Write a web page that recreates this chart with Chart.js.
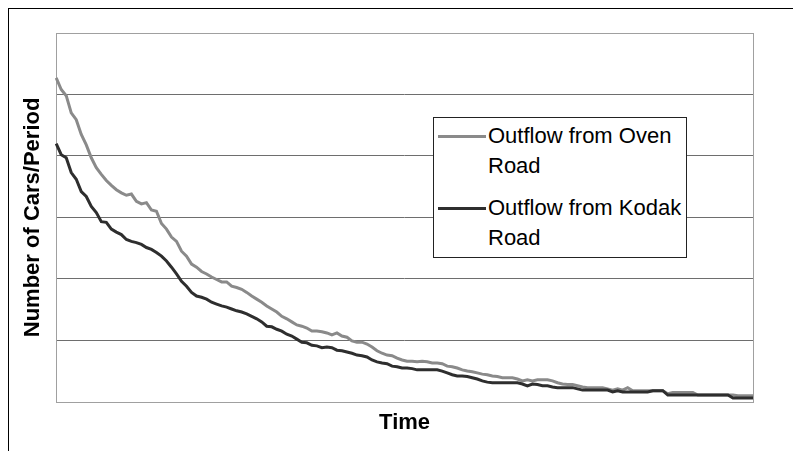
<!DOCTYPE html>
<html>
<head>
<meta charset="utf-8">
<script src="https://cdn.jsdelivr.net/npm/chart.js@4/dist/chart.umd.min.js"></script>
<style>
    html, body { margin: 0; padding: 0; background: #fff; }
    body { width: 793px; height: 451px; overflow: hidden; position: relative; }
    .frame { position: absolute; left: 8px; top: 8px; width: 800px; height: 460px;
             border-left: 1px solid #000; border-top: 1px solid #000; }
    #wrap { position: absolute; left: 0; top: 0; width: 793px; height: 451px; }
    .legend { position: absolute; left: 433px; top: 117px; width: 252px; height: 139px;
              border: 1px solid #222; background: #fff;
              font-family: Arial, "Liberation Sans", sans-serif; font-size: 22px; color: #000; }
    .legend-item { position: absolute; left: 0; width: 252px; }
    .legend-line { position: absolute; left: 4px; width: 48px; height: 3px; top: 11px; }
    .legend-text { position: absolute; left: 54px; top: -3px; width: 198px; line-height: 30px; }
</style>
</head>
<body>
<div class="frame"></div>
<div id="wrap"><canvas id="flowChart" width="793" height="451"></canvas></div>
<div class="legend" id="legend"></div>

<script>
// Outflow per period (one value every ~5px)
const ovenRoad = [
    52.7, 50.8, 49.8, 47.0, 45.9, 43.5, 41.8, 39.7, 38.1, 37.0,
    36.0, 35.2, 34.5, 34.0, 33.6, 33.8, 32.6, 32.2, 32.4, 31.2,
    31.0, 29.0, 28.1, 26.8, 26.1, 24.5, 23.7, 22.4, 21.9, 21.2,
    20.8, 20.3, 19.9, 19.5, 19.5, 18.8, 18.6, 18.3, 17.8, 17.2,
    16.7, 16.2, 15.6, 15.1, 14.6, 13.9, 13.5, 13.0, 12.5, 12.3,
    12.0, 11.5, 11.5, 11.4, 11.2, 10.9, 11.2, 10.7, 10.5, 9.9,
    9.7, 9.7, 9.4, 8.9, 8.3, 7.9, 7.6, 7.5, 7.1, 6.8,
    6.6, 6.6, 6.5, 6.6, 6.5, 6.3, 6.3, 6.2, 5.8, 5.7,
    5.5, 5.2, 5.0, 4.9, 4.7, 4.5, 4.4, 4.2, 4.1, 3.9,
    3.9, 3.9, 3.7, 3.4, 3.6, 3.4, 3.6, 3.6, 3.6, 3.4,
    3.1, 2.9, 2.8, 2.8, 2.6, 2.4, 2.3, 2.3, 2.3, 2.3,
    2.1, 1.9, 2.1, 1.9, 2.3, 1.8, 1.8, 1.8, 1.8, 1.8,
    1.8, 1.8, 1.3, 1.5, 1.5, 1.5, 1.5, 1.5, 1.1, 1.1,
    1.1, 1.1, 1.1, 1.1, 1.1, 1.1, 1.0, 1.0, 1.0, 1.0
];
const kodakRoad = [
    42.0, 40.2, 39.7, 37.3, 36.2, 34.2, 33.4, 31.8, 30.8, 29.3,
    29.2, 28.1, 27.6, 27.2, 26.4, 26.1, 25.9, 25.6, 25.1, 24.8,
    24.3, 23.7, 22.9, 21.9, 20.8, 19.6, 18.8, 17.8, 17.2, 17.0,
    16.7, 16.2, 15.9, 15.6, 15.4, 15.1, 14.8, 14.6, 14.3, 13.9,
    13.5, 13.0, 12.3, 12.2, 11.8, 11.5, 11.0, 10.7, 10.2, 9.7,
    9.6, 9.2, 9.1, 8.8, 8.9, 8.8, 8.4, 8.3, 8.1, 7.9,
    7.6, 7.5, 7.3, 6.8, 6.5, 6.3, 6.2, 5.8, 5.7, 5.5,
    5.5, 5.4, 5.2, 5.2, 5.2, 5.2, 5.2, 5.0, 4.7, 4.4,
    4.2, 4.2, 4.1, 3.9, 3.7, 3.4, 3.2, 3.1, 3.1, 3.1,
    3.1, 3.1, 3.1, 2.9, 2.6, 2.9, 2.8, 2.6, 2.6, 2.4,
    2.3, 2.3, 2.3, 2.3, 2.1, 1.9, 1.9, 1.9, 1.9, 1.9,
    1.9, 1.6, 1.8, 1.6, 1.6, 1.6, 1.6, 1.6, 1.6, 1.8,
    1.8, 1.8, 1.1, 1.1, 1.1, 1.1, 1.1, 1.1, 1.1, 1.1,
    1.1, 1.1, 1.1, 1.1, 1.1, 0.6, 0.6, 0.6, 0.6, 0.6
];
const seriesNames = ['Outflow from Oven Road', 'Outflow from Kodak Road'];
const seriesColors = ['#8a8a8a', '#2e2e2e'];
const periods = ovenRoad.map((_, i) => i + 1);
const yMax = 60;
const yStep = 10;

const FONT = 'Arial, "Liberation Sans", sans-serif';

// plot frame drawn in light gray over the grid
const frame = {
    id: 'frame',
    beforeDatasetsDraw(chart) {
        const { ctx, chartArea: a } = chart;
        ctx.save();
        ctx.strokeStyle = '#a0a0a0';
        ctx.lineWidth = 1;
        ctx.strokeRect(Math.round(a.left) + 0.5, Math.round(a.top) + 0.5,
            Math.round(a.right - a.left), Math.round(a.bottom - a.top));
        ctx.restore();
    }
};

const chart = new Chart(document.getElementById('flowChart'), {
    type: 'line',
    data: {
        labels: periods,
        datasets: [{
            label: seriesNames[0],
            data: ovenRoad,
            borderColor: seriesColors[0],
            borderWidth: 3,
            pointRadius: 0,
            tension: 0,
            order: 2
        }, {
            label: seriesNames[1],
            data: kodakRoad,
            borderColor: seriesColors[1],
            borderWidth: 3,
            pointRadius: 0,
            tension: 0,
            order: 1
        }]
    },
    options: {
        responsive: false,
        animation: false,
        layout: { padding: { left: 19.4, top: 33, right: 40, bottom: 14.4 } },
        plugins: {
            legend: { display: false },
            tooltip: { enabled: false }
        },
        scales: {
            x: {
                offset: false,
                grid: { display: false, drawTicks: false },
                border: { display: false },
                ticks: { display: false },
                title: {
                    display: true,
                    text: 'Time',
                    color: '#000',
                    font: { family: FONT, size: 22, weight: 'bold' },
                    padding: { top: 8.4, bottom: 0 }
                }
            },
            y: {
                min: 0,
                max: yMax,
                grid: {
                    drawTicks: false,
                    color: (c) => (c.tick.value === 0 || c.tick.value === yMax) ? 'rgba(0,0,0,0)' : '#6e6e6e',
                    lineWidth: 1
                },
                border: { display: false },
                ticks: { display: false, stepSize: yStep },
                title: {
                    display: true,
                    text: 'Number of Cars/Period',
                    color: '#000',
                    font: { family: FONT, size: 22, weight: 'bold' },
                    padding: { top: 0, bottom: 10.4 }
                }
            }
        }
    },
    plugins: [frame]
});

// legend box inside the plot, built from the datasets
const legendEl = document.getElementById('legend');
const itemTops = [6, 78];
chart.data.datasets.forEach((ds, i) => {
    const item = document.createElement('div');
    item.className = 'legend-item';
    item.style.top = itemTops[i] + 'px';
    item.innerHTML = `
        <div class="legend-line" style="background:${ds.borderColor}"></div>
        <div class="legend-text">${ds.label}</div>
    `;
    legendEl.appendChild(item);
});
</script>
</body>
</html>
